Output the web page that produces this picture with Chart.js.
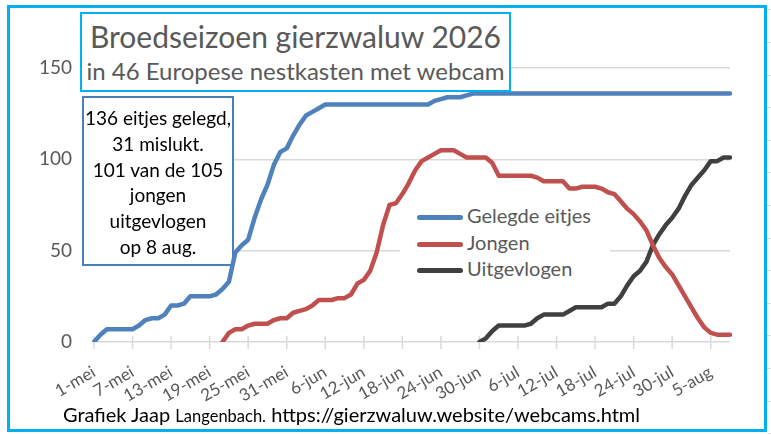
<!DOCTYPE html>
<html>
<head>
<meta charset="utf-8">
<script src="https://cdn.jsdelivr.net/npm/chart.js@4.4.1/dist/chart.umd.min.js"></script>
<style>
body { margin: 0; background: #fff; }
#wrap { position: relative; width: 771px; height: 435px; overflow: hidden; font-family: Lato, sans-serif; background: #fff; }
#grafiek { position: absolute; left: 0; top: 0; }
.cellen { position: absolute; left: 767px; top: 0; width: 4px; height: 435px; background: repeating-linear-gradient(to bottom, transparent 0, transparent 9.5px, #E0E0E0 9.5px, #E0E0E0 10.5px, transparent 10.5px, transparent 32.6px); }
.kader { position: absolute; left: 7px; top: 5px; width: 760px; height: 427px; border: 3px solid #00B0F0; box-sizing: border-box; }
.titel { position: absolute; left: 80px; top: 12px; width: 431px; height: 80px; border: 2px solid #00B0F0; box-sizing: border-box; background: #fff; color: #595959; text-align: center; white-space: nowrap; }
.titel .t1 { font-size: 30px; line-height: 40px; margin-top: 2px; }
.titel .t2 { font-size: 24px; line-height: 30px; }
.tekst { position: absolute; left: 83px; top: 105px; width: 150px; text-align: center; font-size: 19px; line-height: 25.8px; color: #000; white-space: nowrap; }
#legenda { position: absolute; left: 400px; top: 202px; width: 210px; background: #fff; padding: 0; color: #595959; font-size: 20px; }
#legenda div { height: 26.5px; line-height: 26.5px; white-space: nowrap; }
#legenda span.lijn { display: inline-block; width: 46px; height: 5px; border-radius: 3px; vertical-align: middle; margin: 0 4px 0 17px; }
.voet { position: absolute; left: 63px; top: 402px; font-size: 20px; color: #000; white-space: nowrap; }
.voet small { font-size: 16.5px; }
</style>
</head>
<body>
<div id="wrap">
  <canvas id="grafiek" width="771" height="435"></canvas>
  <div class="cellen"></div>
  <div class="titel"><div class="t1">Broedseizoen gierzwaluw 2026</div><div class="t2">in 46 Europese nestkasten met webcam</div></div>
  <div class="tekst">136 eitjes gelegd,<br>31 mislukt.<br>101 van de 105<br>jongen<br>uitgevlogen<br>op 8 aug.</div>
  <div id="legenda"></div>
  <div class="voet">Grafiek Jaap <small>Langenbach.</small> https://gierzwaluw.website/webcams.html</div>
  <div class="kader"></div>
</div>
<script>
// dagen van 1 mei t/m 8 augustus
const dagen = [
  '1-mei','2-mei','3-mei','4-mei','5-mei','6-mei','7-mei','8-mei','9-mei','10-mei',
  '11-mei','12-mei','13-mei','14-mei','15-mei','16-mei','17-mei','18-mei','19-mei','20-mei',
  '21-mei','22-mei','23-mei','24-mei','25-mei','26-mei','27-mei','28-mei','29-mei','30-mei',
  '31-mei','1-jun','2-jun','3-jun','4-jun','5-jun','6-jun','7-jun','8-jun','9-jun',
  '10-jun','11-jun','12-jun','13-jun','14-jun','15-jun','16-jun','17-jun','18-jun','19-jun',
  '20-jun','21-jun','22-jun','23-jun','24-jun','25-jun','26-jun','27-jun','28-jun','29-jun',
  '30-jun','1-jul','2-jul','3-jul','4-jul','5-jul','6-jul','7-jul','8-jul','9-jul',
  '10-jul','11-jul','12-jul','13-jul','14-jul','15-jul','16-jul','17-jul','18-jul','19-jul',
  '20-jul','21-jul','22-jul','23-jul','24-jul','25-jul','26-jul','27-jul','28-jul','29-jul',
  '30-jul','31-jul','1-aug','2-aug','3-aug','4-aug','5-aug','6-aug','7-aug','8-aug'
]
const labelStap = 6

const eitjes = [
  0, 4, 7, 7, 7, 7, 7, 9, 12, 13,
  13, 15, 20, 20, 21, 25, 25, 25, 25, 26,
  29, 33, 49, 53, 56, 68, 78, 86, 97, 104,
  106, 113, 119, 124, 126, 128, 130, 130, 130, 130,
  130, 130, 130, 130, 130, 130, 130, 130, 130, 130,
  130, 130, 130, 132, 133, 134, 134, 134, 135, 136,
  136, 136, 136, 136, 136, 136, 136, 136, 136, 136,
  136, 136, 136, 136, 136, 136, 136, 136, 136, 136,
  136, 136, 136, 136, 136, 136, 136, 136, 136, 136,
  136, 136, 136, 136, 136, 136, 136, 136, 136, 136
]
const jongen = [
  null, null, null, null, null, null, null, null, null, null,
  null, null, null, null, null, null, null, null, null, null,
  0, 5, 7, 7, 9, 10, 10, 10, 12, 13,
  13, 16, 17, 18, 20, 23, 23, 23, 24, 24,
  26, 32, 34, 39, 49, 64, 75, 76, 81, 87,
  94, 99, 101, 103, 105, 105, 105, 103, 101, 101,
  101, 101, 98, 91, 91, 91, 91, 91, 91, 90,
  88, 88, 88, 88, 84, 84, 85, 85, 85, 84,
  82, 81, 77, 73, 70, 66, 61, 53, 46, 41,
  37, 31, 25, 19, 13, 8, 5, 4, 4, 4
]
const uitgevlogen = [
  null, null, null, null, null, null, null, null, null, null,
  null, null, null, null, null, null, null, null, null, null,
  null, null, null, null, null, null, null, null, null, null,
  null, null, null, null, null, null, null, null, null, null,
  null, null, null, null, null, null, null, null, null, null,
  null, null, null, null, null, null, null, null, null, null,
  0, 2, 6, 9, 9, 9, 9, 9, 10, 13,
  15, 15, 15, 15, 17, 19, 19, 19, 19, 19,
  21, 21, 25, 31, 36, 39, 44, 53, 59, 64,
  68, 73, 80, 86, 90, 94, 99, 99, 101, 101
]

const reeksen = [
  { label: 'Gelegde eitjes', data: eitjes, kleur: '#4F81BD' },
  { label: 'Jongen', data: jongen, kleur: '#C0504D' },
  { label: 'Uitgevlogen', data: uitgevlogen, kleur: '#404040' }
]

// kruis-streepjes op de x-as en het witte tekstvak achter de lijnen
const asStreepjes = {
  id: 'asStreepjes',
  beforeDatasetsDraw(c) {
    const g = c.ctx
    const x = c.scales.x
    const y0 = c.scales.y.getPixelForValue(0)
    g.save()
    g.strokeStyle = '#D9D9D9'
    g.lineWidth = 1.5
    for (let i = 0; i < dagen.length; i += labelStap) {
      const px = x.getPixelForValue(i)
      g.beginPath()
      g.moveTo(px, y0 - 6)
      g.lineTo(px, y0 + 7)
      g.stroke()
    }
    g.fillStyle = '#fff'
    g.fillRect(83, 97, 150, 168)
    g.strokeStyle = '#4A7EBB'
    g.lineWidth = 2
    g.strokeRect(83, 97, 150, 168)
    g.restore()
  }
}

const ctx = document.getElementById('grafiek')
const chart = new Chart(ctx, {
  type: 'line',
  data: {
    labels: dagen,
    datasets: reeksen.map(r => ({
      label: r.label,
      data: r.data,
      borderColor: r.kleur,
      backgroundColor: r.kleur
    }))
  },
  options: {
    responsive: false,
    animation: false,
    layout: { padding: { left: 0, right: 41, top: 68, bottom: 33 } },
    plugins: { legend: { display: false }, tooltip: { enabled: false } },
    elements: {
      point: { radius: 0 },
      line: { borderWidth: 4.5, tension: 0, borderCapStyle: 'round', borderJoinStyle: 'round' }
    },
    scales: {
      x: {
        grid: { display: false },
        border: { display: false },
        ticks: {
          autoSkip: false,
          minRotation: 30,
          maxRotation: 30,
          padding: 12,
          color: '#595959',
          font: { family: 'Lato', size: 17 },
          callback: function (v, i) { return i % labelStap === 0 ? this.getLabelForValue(v) : '' }
        },
        afterFit(s) { s.height = 60 }
      },
      y: {
        min: 0,
        max: 150,
        ticks: { stepSize: 50, padding: 22, color: '#595959', font: { family: 'Lato', size: 19 } },
        grid: { color: '#D9D9D9', lineWidth: 1.5, drawTicks: false },
        border: { display: false },
        afterFit(s) { s.width = 94 }
      }
    }
  },
  plugins: [asStreepjes]
})

// legenda uit de datasets
const leg = document.getElementById('legenda')
chart.data.datasets.forEach(ds => {
  const rij = document.createElement('div')
  rij.innerHTML = '<span class="lijn" style="background:' + ds.borderColor + '"></span>' + ds.label
  leg.appendChild(rij)
})
</script>
</body>
</html>
